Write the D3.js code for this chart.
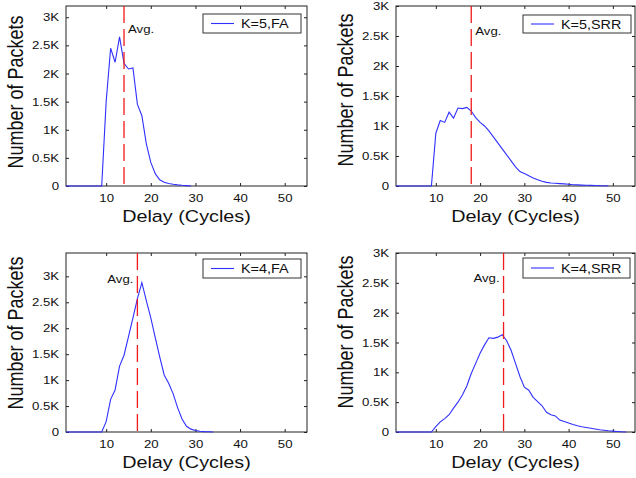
<!DOCTYPE html>
<html><head><meta charset="utf-8">
<script src="https://cdn.jsdelivr.net/npm/d3@7"></script>
<style>
html,body{margin:0;padding:0;background:#fff;}
svg{display:block;font-family:"Liberation Sans",Arial,sans-serif;}
</style></head>
<body>
<svg id="chart" width="636" height="478"></svg>
<script>
// ---------- data ----------
const seriesNames = ["K=5,FA", "K=5,SRR", "K=4,FA", "K=4,SRR"];
// packet counts for delay = 1,2,3,... cycles
const k5fa = [0,0,0,0,0,0,0,0,0,1500,2450,2200,2650,2180,2080,2100,1450,1250,750,420,220,110,65,45,30,20,12,6,0];
const k5srr = [0,0,0,0,0,0,0,0,0,880,1090,1060,1230,1130,1300,1290,1310,1250,1140,1060,1000,920,820,720,620,520,420,320,240,210,170,135,105,80,60,50,45,40,35,30,22,18,15,12,10,8,5,3,0];
const k4fa = [0,0,0,0,0,0,0,0,0,200,630,810,1270,1480,1840,2200,2570,2880,2530,2200,1820,1450,1100,940,740,470,250,110,55,30,15,8,4,0];
const k4srr = [0,0,0,0,0,0,0,0,0,90,170,225,290,400,500,620,770,980,1150,1320,1460,1580,1570,1590,1630,1530,1370,1150,930,750,700,580,510,440,330,290,270,200,175,150,125,105,88,75,62,50,38,30,20,14,8,3,0];
const averages = [14, 18, 17, 25.3];
const yMaxes = [3200, 3000, 3450, 3000];
const xDomain = [1, 55];
const xTicks = [10, 20, 30, 40, 50];
const yTicks = [0, 500, 1000, 1500, 2000, 2500, 3000];
const yTickLabels = ["0", "0.5K", "1K", "1.5K", "2K", "2.5K", "3K"];
const xLabel = "Delay (Cycles)";
const yLabel = "Number of Packets";
const avgLabel = "Avg.";
const allSeries = [k5fa, k5srr, k4fa, k4srr];

// ---------- layout ----------
const panels = [
  {l:66, r:307, t:6, b:186, legend:{x:203, y:14, w:98, h:19}, avgSide:"right", avgY:33, ylabX:23, ylabY:92, xlabY:222},
  {l:396, r:635, t:6, b:186, legend:{x:523, y:15, w:108, h:18}, avgSide:"right", avgY:35, ylabX:353, ylabY:90, xlabY:222},
  {l:66, r:307, t:253, b:432, legend:{x:203, y:259, w:98, h:19}, avgSide:"left", avgY:283, ylabX:23, ylabY:333, xlabY:468},
  {l:396, r:635, t:253, b:432, legend:{x:523, y:258, w:107, h:20}, avgSide:"left", avgY:282, ylabX:353, ylabY:332, xlabY:468}
];
const SX = 1.2; // horizontal text stretch
const svg = d3.select("#chart");
const textColor = "#111";

panels.forEach((p, i) => {
  const data = allSeries[i].map((v, j) => ({x: j + 1, y: v}));
  const x = d3.scaleLinear().domain(xDomain).range([p.l, p.r]);
  const y = d3.scaleLinear().domain([0, yMaxes[i]]).range([p.b, p.t]);
  const g = svg.append("g");

  // ticks (inward) on all four sides
  const fmt = d => yTickLabels[yTicks.indexOf(d)];
  const axB = g.append("g").attr("transform", `translate(0,${p.b})`)
    .call(d3.axisBottom(x).tickValues(xTicks).tickSizeInner(-3).tickSizeOuter(0).tickPadding(8));
  const axL = g.append("g").attr("transform", `translate(${p.l},0)`)
    .call(d3.axisLeft(y).tickValues(yTicks).tickFormat(fmt).tickSizeInner(-3).tickSizeOuter(0).tickPadding(7));
  g.append("g").attr("transform", `translate(0,${p.t})`)
    .call(d3.axisTop(x).tickValues(xTicks).tickFormat("").tickSizeInner(-3).tickSizeOuter(0));
  g.append("g").attr("transform", `translate(${p.r},0)`)
    .call(d3.axisRight(y).tickValues(yTicks).tickFormat("").tickSizeInner(-3).tickSizeOuter(0));
  g.selectAll(".domain").remove();
  g.selectAll(".tick line").attr("stroke", "#222");
  [axB, axL].forEach(a => a.selectAll("text")
    .attr("font-size", 11).attr("fill", textColor)
    .attr("font-family", "Liberation Sans, Arial, sans-serif"));
  axB.selectAll("text").attr("dy", "0.71em").attr("transform", `scale(${SX},1)`);
  axL.selectAll("text").attr("transform", `scale(${SX},1)`).attr("x", -7 / SX);

  // box
  g.append("rect").attr("x", p.l).attr("y", p.t).attr("width", p.r - p.l).attr("height", p.b - p.t)
    .attr("fill", "none").attr("stroke", "#222").attr("stroke-width", 1);

  // data line
  g.append("path").datum(data)
    .attr("d", d3.line().x(d => x(d.x)).y(d => y(d.y)))
    .attr("fill", "none").attr("stroke", "#3030ff").attr("stroke-width", 1.1);

  // average line
  const ax = x(averages[i]);
  g.append("line").attr("x1", ax).attr("x2", ax).attr("y1", p.t).attr("y2", p.b)
    .attr("stroke", "#f01a1a").attr("stroke-width", 1.3).attr("stroke-dasharray", "17,6");
  g.append("text")
    .attr("transform", `translate(${p.avgSide === "right" ? ax + 4 : ax - 4},${p.avgY}) scale(${SX},1)`)
    .attr("text-anchor", p.avgSide === "right" ? "start" : "end")
    .attr("font-size", 11).attr("fill", textColor).text(avgLabel);

  // legend
  const L = p.legend;
  g.append("rect").attr("x", L.x).attr("y", L.y).attr("width", L.w).attr("height", L.h)
    .attr("fill", "#fff").attr("stroke", "#333").attr("stroke-width", 1);
  g.append("line").attr("x1", L.x + 8).attr("x2", L.x + 31).attr("y1", L.y + L.h / 2).attr("y2", L.y + L.h / 2)
    .attr("stroke", "#3030ff").attr("stroke-width", 1.1);
  g.append("text").attr("transform", `translate(${L.x + 38},${L.y + L.h / 2 + 4.5}) scale(${SX},1)`)
    .attr("font-size", 12).attr("fill", textColor).text(seriesNames[i]);

  // axis labels
  g.append("text").attr("transform", `translate(${(p.l + p.r) / 2},${p.xlabY}) scale(${SX},1)`)
    .attr("text-anchor", "middle").attr("font-size", 16.5).attr("fill", textColor).text(xLabel);
  g.append("text").attr("transform", `translate(${p.ylabX},${p.ylabY}) scale(${SX},1) rotate(-90)`)
    .attr("text-anchor", "middle").attr("font-size", 18).attr("fill", textColor).text(yLabel);
});
</script>
</body></html>
